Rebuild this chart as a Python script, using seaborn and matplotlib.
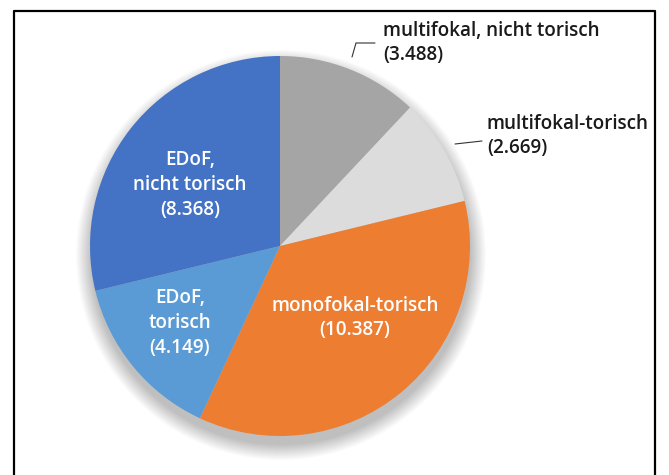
import matplotlib
matplotlib.use("Agg")
import matplotlib.pyplot as plt
import seaborn as sns
from matplotlib.patches import Circle
from matplotlib.lines import Line2D

# Linsentypen und Anzahl
categories = ["multifokal, nicht torisch", "multifokal-torisch", "monofokal-torisch",
              "EDoF, torisch", "EDoF, nicht torisch"]
counts = [3488, 2669, 10387, 4149, 8368]
value_labels = ["3.488", "2.669", "10.387", "4.149", "8.368"]
slice_colors = ["#A5A5A5", "#DCDCDC", "#ED7D31", "#5B9BD5", "#4472C4"]

sns.set_theme(style="white")
plt.rcParams['font.family'] = ['Open Sans', 'DejaVu Sans']

W, H = 669, 475
fig = plt.figure(figsize=(W / 100, H / 100), dpi=100)
ax = fig.add_axes([0, 0, 1, 1])


def py(y):
    # pixel row -> data y
    return H - y


cx, cy, r = 280, py(246), 190

# weicher Schatten
for i in range(16):
    ax.add_patch(Circle((cx + 1, cy - 9), r + 15 - i, color='black', alpha=0.015, lw=0, zorder=1))

wedges, _ = ax.pie(counts, colors=slice_colors, startangle=90, counterclock=False,
                   center=(cx, cy), radius=r, frame=True,
                   wedgeprops=dict(linewidth=0, zorder=2))
ax.set_xlim(0, W)
ax.set_ylim(0, H)
ax.set_aspect('equal')
ax.axis('off')

fs = 13.6
white = dict(color='white', fontsize=fs, fontweight='semibold', ha='center', va='center',
             multialignment='center', linespacing=1.3, zorder=5)
ax.text(190, py(185), "EDoF,\nnicht torisch\n(" + value_labels[4] + ")", **white)
ax.text(180, py(323), "EDoF,\ntorisch\n(" + value_labels[3] + ")", **white)
ax.text(355, py(318), "monofokal-torisch\n(" + value_labels[2] + ")", **white)

dark = dict(color='#1a1a1a', fontsize=fs, fontweight='semibold', ha='left', va='center',
            multialignment='left', linespacing=1.3, zorder=5)
ax.text(383, py(43), categories[0] + "\n(" + value_labels[0] + ")", **dark)
ax.text(487, py(136), categories[1] + "\n(" + value_labels[1] + ")", **dark)

# Führungslinien
ax.add_line(Line2D([352, 356, 375], [py(57), py(43), py(43)], color='#333333', lw=0.8, zorder=5))
ax.add_line(Line2D([455, 482], [py(144), py(141)], color='#333333', lw=0.8, zorder=5))

# Rahmen
ax.add_line(Line2D([13.5, 13.5, 654.5, 654.5], [-5, py(10.5), py(10.5), -5],
                   color='black', lw=1.6, zorder=6, clip_on=False))

fig.savefig("out.png", dpi=100)
